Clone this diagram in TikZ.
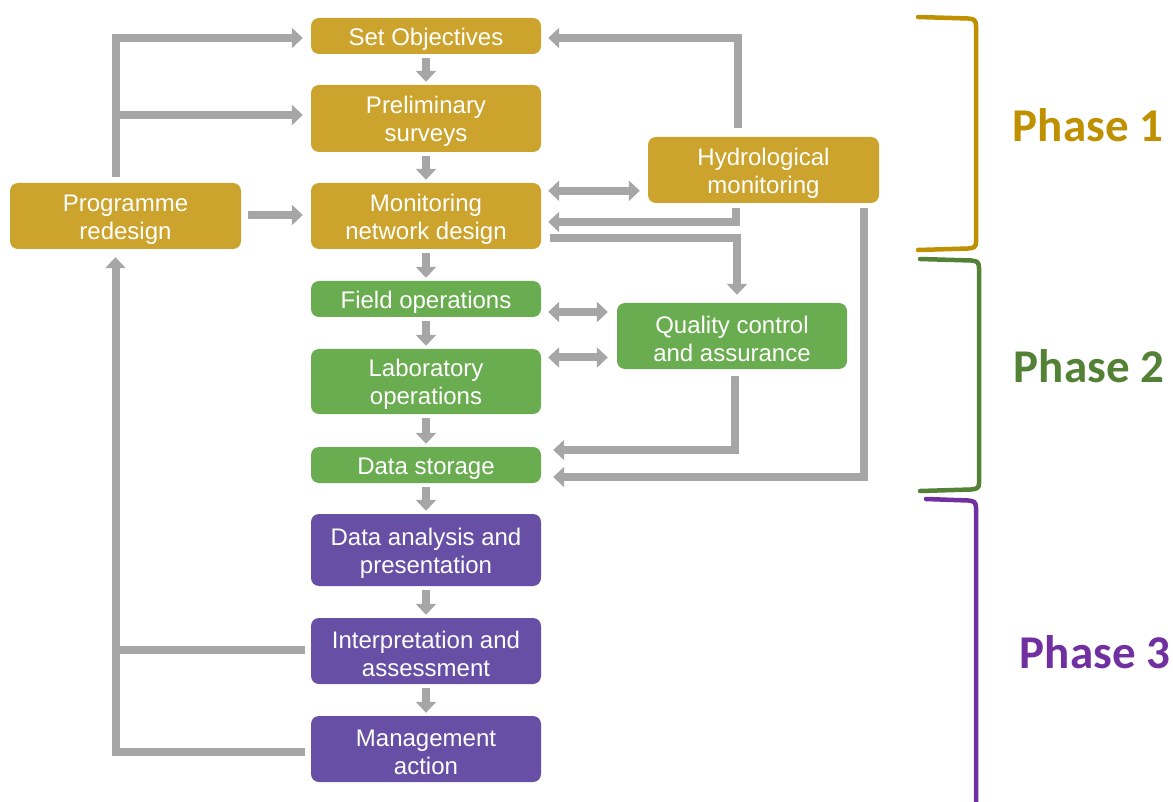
\documentclass[tikz,border=0pt]{standalone}
\usepackage{fontspec}
\setmainfont{Liberation Sans}
\newfontfamily\phasefont{Carlito}
\usetikzlibrary{arrows.meta,calc}
\definecolor{gold}{HTML}{CCA42D}
\definecolor{leaf}{HTML}{6AAC50}
\definecolor{violet}{HTML}{684FA6}
\definecolor{arrgray}{HTML}{A6A6A6}
\definecolor{ph1}{HTML}{BF9000}
\definecolor{ph2}{HTML}{538135}
\definecolor{ph3}{HTML}{7030A0}
\newcommand\boxlift{\rule{0pt}{23.5pt}}
\tikzset{
  box/.style={rounded corners=8pt, minimum width=230pt, inner sep=0pt, align=center,
    text=white, font=\fontsize{24}{28}\selectfont},
  goldbox/.style={box, fill=gold},
  greenbox/.style={box, fill=leaf},
  purplebox/.style={box, fill=violet},
  lin/.style={draw=arrgray, line width=8pt, line join=miter},
  arr/.style={lin, -{Triangle[width=20pt,length=11pt]}},
  darr/.style={lin, {Triangle[width=20pt,length=11pt]}-{Triangle[width=20pt,length=11pt]}},
  bracebar/.style={line width=4.5pt, line cap=round},
  phaselabel/.style={font=\phasefont\bfseries\fontsize{47}{50}\selectfont}
}
\begin{document}
\begin{tikzpicture}[x=1pt,y=-1pt]
\useasboundingbox (0,0) rectangle (1173,802);
% boxes
\node[goldbox, minimum height=36pt] (setobj) at (426,36) {\boxlift Set Objectives};
\node[goldbox, minimum height=67pt] (prelim) at (426,118.5) {\boxlift Preliminary\\surveys};
\node[goldbox, minimum height=66pt] (mon) at (426,216) {\boxlift Monitoring\\network design};
\node[goldbox, minimum height=66pt, minimum width=231pt] (prog) at (125.5,216) {\boxlift Programme\\redesign};
\node[goldbox, minimum height=66pt, minimum width=231pt] (hydro) at (763.5,170) {\boxlift Hydrological\\monitoring};
\node[greenbox, minimum height=36pt] (field) at (426,299) {\boxlift Field operations};
\node[greenbox, minimum height=66pt] (qc) at (732,336) {\boxlift Quality control\\and assurance};
\node[greenbox, minimum height=65pt] (lab) at (426,381.5) {\boxlift Laboratory\\operations};
\node[greenbox, minimum height=36pt] (storage) at (426,465) {\boxlift Data storage};
\node[purplebox, minimum height=72pt] (analysis) at (426,550) {\boxlift Data analysis and\\presentation};
\node[purplebox, minimum height=66pt] (interp) at (426,651) {\boxlift Interpretation and\\assessment};
\node[purplebox, minimum height=66pt] (mgmt) at (426,749) {\boxlift Management\\action};
% main vertical flow
\foreach \a/\b in {setobj/prelim, prelim/mon, mon/field, field/lab, lab/storage, storage/analysis, analysis/interp, interp/mgmt}
  \draw[arr] ($(\a.south)+(0,4)$) -- ($(\b.north)+(0,-3)$);
% left feedback
\coordinate (lx) at ($(prog.north)+(-10,0)$);
\draw[arr] ($(prog.north)+(-10,-6)$) |- ($(setobj.west)+(-8,2)$);
\draw[arr] ($(prelim.west -| lx)+(-4,-3.5)$) -- ($(prelim.west)+(-8,-3.5)$);
\draw[arr] ($(prog.east)+(7,-1)$) -- ($(mon.west)+(-8,-1)$);
\draw[arr] ($(mgmt.west)+(-6,3)$) -| ($(prog.south)+(-10,8)$);
\draw[lin] ($(interp.west)+(-6,-1)$) -- ($(interp.west -| lx)+(-4,-1)$);
% right side
\draw[arr] ($(hydro.north)+(-26,-9)$) |- ($(setobj.east)+(7,2)$);
\draw[darr] ($(mon.north east)+(7,8)$) -- ($(hydro.west |- mon.north)+(-8,8)$);
\draw[arr] ($(hydro.south)+(-28,5)$) |- ($(mon.east)+(7,6)$);
\draw[arr] ($(mon.east)+(9,22)$) -| ($(qc.north)+(5,-8)$);
\draw[darr] ($(field.east)+(7,13)$) -- ($(qc.west |- field.east)+(-9,13)$);
\draw[darr] ($(lab.east)+(7,-24)$) -- ($(qc.west |- lab.east)+(-9,-24)$);
\draw[arr] ($(qc.south)+(3,7)$) |- ($(storage.east)+(12,-15)$);
\draw[arr] ($(hydro.south east)+(-15,5)$) |- ($(storage.east)+(12,12)$);
% phase braces
\draw[bracebar, ph1] (918,17) -- (968,18.5) .. controls (974,19) and (976,20) .. (976,26)
  -- (976,242) .. controls (976,247) and (974,248) .. (968,248.5) -- (918,250);
\draw[bracebar, ph2] (920,259) -- (971,260.5) .. controls (977,261) and (979,262) .. (979,268)
  -- (979,483) .. controls (979,488) and (977,489) .. (971,489.5) -- (920,491);
\draw[bracebar, ph3] (926,499) -- (968,500.5) .. controls (974,501) and (976,502) .. (976,508) -- (976,806);
\node[phaselabel, text=ph1] (p1) at (1088,125) {Phase 1};
\node[phaselabel, text=ph2] (p2) at (1089,366) {Phase 2};
\node[phaselabel, text=ph3] (p3) at (1095,652) {Phase 3};
\end{tikzpicture}
\end{document}
